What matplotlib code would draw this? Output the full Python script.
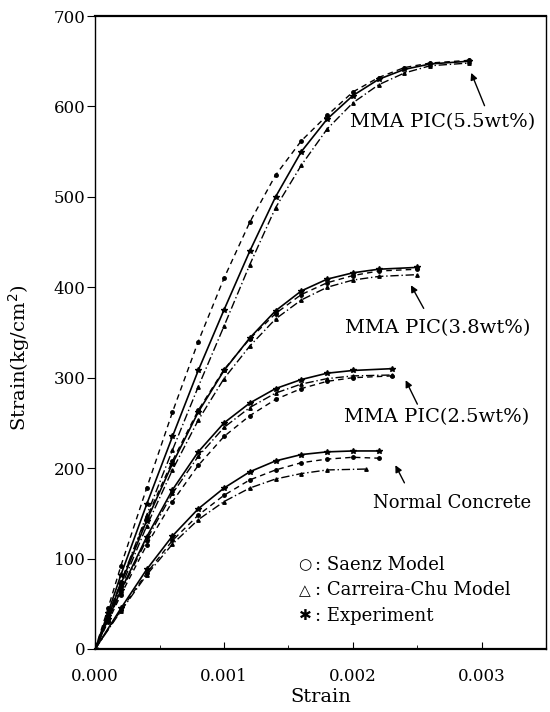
import matplotlib
matplotlib.use("Agg")
import matplotlib.pyplot as plt

plt.rcParams['font.family'] = ['DejaVu Serif']

# MMA PIC 5.5 wt%
s55 = [0, 0.0001, 0.0002, 0.0004, 0.0006, 0.0008, 0.001, 0.0012, 0.0014,
       0.0016, 0.0018, 0.002, 0.0022, 0.0024, 0.0026, 0.0029]
exp55 = [0, 40, 82, 160, 235, 308, 375, 440, 500, 550, 586, 612, 630, 641, 647, 650]
saenz55 = [0, 45, 92, 178, 262, 340, 410, 472, 524, 562, 590, 616, 632, 643, 648, 651]
cc55 = [0, 36, 74, 148, 220, 290, 357, 425, 488, 535, 575, 604, 624, 637, 645, 648]

# MMA PIC 3.8 wt%
s38 = [0, 0.0001, 0.0002, 0.0004, 0.0006, 0.0008, 0.001, 0.0012, 0.0014,
       0.0016, 0.0018, 0.002, 0.0022, 0.0025]
exp38 = [0, 36, 72, 142, 205, 262, 308, 344, 374, 396, 409, 416, 420, 422]
saenz38 = [0, 37, 74, 145, 208, 264, 309, 343, 371, 392, 405, 413, 418, 420]
cc38 = [0, 34, 68, 136, 198, 253, 299, 335, 365, 386, 400, 408, 412, 414]

# MMA PIC 2.5 wt%
s25 = [0, 0.0001, 0.0002, 0.0004, 0.0006, 0.0008, 0.001, 0.0012, 0.0014,
       0.0016, 0.0018, 0.002, 0.0023]
exp25 = [0, 33, 65, 124, 176, 218, 250, 272, 288, 298, 305, 308, 310]
saenz25 = [0, 30, 60, 115, 163, 203, 235, 258, 276, 288, 296, 300, 302]
cc25 = [0, 32, 63, 121, 172, 213, 245, 267, 283, 293, 299, 302, 303]

# Normal concrete
snc = [0, 0.0002, 0.0004, 0.0006, 0.0008, 0.001, 0.0012, 0.0014, 0.0016,
       0.0018, 0.002, 0.0022]
expnc = [0, 45, 88, 125, 155, 178, 196, 208, 215, 218, 219, 219]
saenznc = [0, 43, 84, 120, 148, 170, 187, 198, 206, 210, 212, 211]
snc_cc = [0, 0.0002, 0.0004, 0.0006, 0.0008, 0.001, 0.0012, 0.0014, 0.0016,
          0.0018, 0.0021]
ccnc = [0, 42, 82, 116, 143, 163, 178, 188, 194, 198, 199]

labels = ["MMA PIC(5.5wt%)", "MMA PIC(3.8wt%)", "MMA PIC(2.5wt%)", "Normal Concrete"]
label_pos = [(0.00198, 583), (0.00194, 355), (0.00193, 257), (0.00216, 161)]
label_size = [14, 14, 14, 13]
arrow_tail = [(0.00303, 598), (0.00256, 374), (0.00251, 268), (0.00241, 181)]
arrow_head = [(0.00291, 640), (0.00244, 405), (0.00240, 300), (0.00232, 206)]

fig = plt.figure(figsize=(5.5, 7.12), dpi=100)
ax = fig.add_axes([0.173, 0.0885, 0.82, 0.889])

groups = [(s55, s55, s55, exp55, saenz55, cc55),
          (s38, s38, s38, exp38, saenz38, cc38),
          (s25, s25, s25, exp25, saenz25, cc25),
          (snc, snc, snc_cc, expnc, saenznc, ccnc)]

for xe, xs, xc, ye, ys, yc in groups:
    ax.plot(xs, ys, color='black', linestyle=(0, (4, 3)), linewidth=1.0,
            marker='o', markersize=2.5)
    ax.plot(xc, yc, color='black', linestyle=(0, (6, 2, 1, 2)), linewidth=1.0,
            marker='^', markersize=2.5)
    ax.plot(xe, ye, color='black', linestyle='-', linewidth=1.2,
            marker='*', markersize=4)

for text, (tx, ty), fs, tail, head in zip(labels, label_pos, label_size,
                                          arrow_tail, arrow_head):
    ax.text(tx, ty, text, fontsize=fs, ha='left', va='center')
    ax.annotate('', xy=head, xytext=tail,
                arrowprops=dict(arrowstyle='-|>', color='black', lw=1.0,
                                mutation_scale=10))

legend_items = [("\u25cb", ": Saenz Model"), ("\u25b3", ": Carreira-Chu Model"),
                ("\u2731", ": Experiment")]
for i, (sym, txt) in enumerate(legend_items):
    y = 93 - i * 28
    ax.text(0.00163, y, sym, fontsize=11, ha='center', va='center',
            family=['DejaVu Sans'])
    ax.text(0.00171, y, txt, fontsize=13, ha='left', va='center')

ax.set_xlim(0, 0.0035)
ax.set_ylim(0, 700)
ax.set_xticks([0, 0.001, 0.002, 0.003])
ax.set_xticklabels(["0.000", "0.001", "0.002", "0.003"])
ax.set_xticks([0.0005, 0.0015, 0.0025], minor=True)
ax.set_yticks(range(0, 701, 100))
ax.tick_params(axis='x', direction='in', labelsize=12, length=5, pad=14)
ax.tick_params(axis='x', which='minor', direction='in', length=3)
ax.tick_params(axis='y', direction='out', labelsize=12, length=6, pad=1)
for sp in ax.spines.values():
    sp.set_linewidth(1.0)
ax.spines['bottom'].set_linewidth(1.6)
ax.spines['top'].set_linewidth(1.6)

ax.set_xlabel("Strain", fontsize=14, labelpad=2)
ax.set_ylabel("Strain(kg/cm$^2$)", fontsize=14)
ax.yaxis.set_label_coords(-0.14, 0.46)

fig.savefig("out.png", dpi=100)
